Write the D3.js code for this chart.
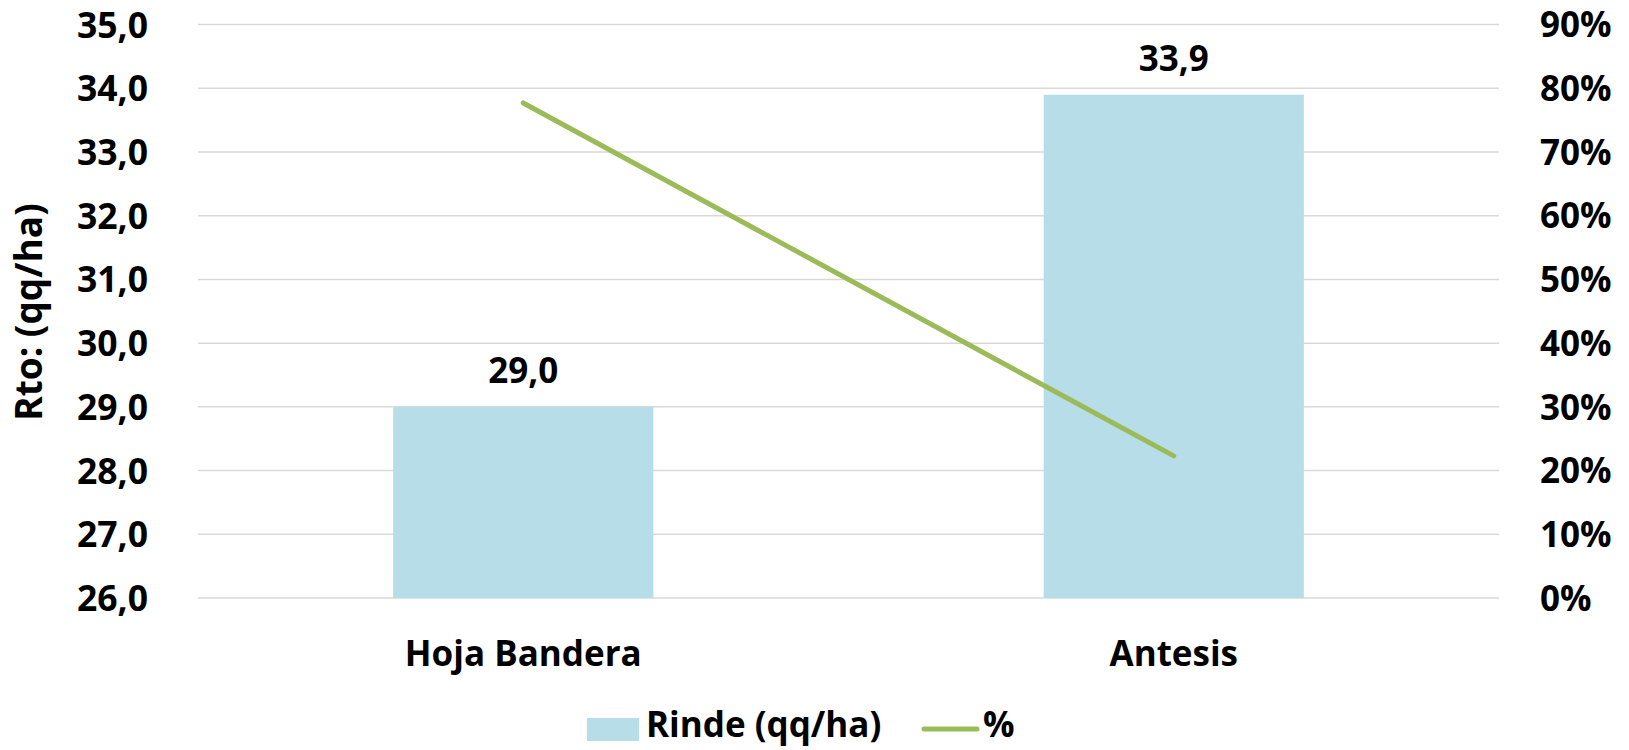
<!DOCTYPE html>
<html>
<head>
<meta charset="utf-8">
<script src="https://cdn.jsdelivr.net/npm/d3@7"></script>
<style>
  body { margin: 0; background: #fff; }
  text { font-family: "Open Sans", sans-serif; font-weight: bold; fill: #000; }
</style>
</head>
<body>
<svg width="1629" height="750"></svg>
<script>
// data
var categories = ["Hoja Bandera", "Antesis"];
var rinde = [29.0, 33.9];
var pct = [0.777, 0.223];
var leftTicks = [26, 27, 28, 29, 30, 31, 32, 33, 34, 35];
var rightTicks = [0, 0.1, 0.2, 0.3, 0.4, 0.5, 0.6, 0.7, 0.8, 0.9];

var svg = d3.select("svg");
// plot box (note: "top" is a reserved window prop, so use plot* names)
var plotLeft = 198, plotRight = 1499, plotTop = 24.6, plotBottom = 598;

var x = d3.scaleBand()
  .domain(categories)
  .range([plotLeft, plotRight])
  .paddingInner(0.6)
  .paddingOuter(0.3);

var y = d3.scaleLinear().domain([26, 35]).range([plotBottom, plotTop]);
var y2 = d3.scaleLinear().domain([0, 0.9]).range([plotBottom, plotTop]);

var fmt1 = d => d3.format(".1f")(d).replace(".", ",");

// gridlines
svg.append("g")
  .selectAll("line")
  .data(leftTicks)
  .enter()
  .append("line")
  .attr("x1", plotLeft)
  .attr("x2", plotRight)
  .attr("y1", d => y(d))
  .attr("y2", d => y(d))
  .style("stroke", "#d9d9d9")
  .attr("stroke-width", 1.5);

// left axis
var yAxis = svg.append("g")
  .attr("transform", "translate(148,0)")
  .call(d3.axisLeft(y).tickValues(leftTicks).tickFormat(fmt1).tickSize(0).tickPadding(0));
yAxis.select(".domain").remove();
yAxis.selectAll("text").style("font-size", "35.5px").attr("dy", "0.35em");

// right axis
var y2Axis = svg.append("g")
  .attr("transform", "translate(1540,0)")
  .call(d3.axisRight(y2).tickValues(rightTicks).tickFormat(d3.format(".0%")).tickSize(0).tickPadding(0));
y2Axis.select(".domain").remove();
y2Axis.selectAll("text").style("font-size", "35px").attr("dy", "0.35em");

// bars
svg.append("g")
  .selectAll("rect")
  .data(rinde)
  .enter()
  .append("rect")
  .attr("x", (d, i) => x(categories[i]))
  .attr("width", x.bandwidth())
  .attr("y", d => y(d))
  .attr("height", d => plotBottom - y(d))
  .attr("fill", "#b7dde8");

// bar labels
svg.append("g")
  .selectAll("text")
  .data(rinde)
  .enter()
  .append("text")
  .attr("x", (d, i) => x(categories[i]) + x.bandwidth() / 2)
  .attr("y", d => y(d) - 24)
  .attr("text-anchor", "middle")
  .style("font-size", "35px")
  .text(fmt1);

// % line
var line = d3.line()
  .x((d, i) => x(categories[i]) + x.bandwidth() / 2)
  .y(d => y2(d));

svg.append("path")
  .datum(pct)
  .attr("d", line)
  .attr("fill", "none")
  .style("stroke", "#9bbb59")
  .attr("stroke-width", 5)
  .attr("stroke-linecap", "round");

// category labels
svg.append("g")
  .selectAll("text")
  .data(categories)
  .enter()
  .append("text")
  .attr("x", d => x(d) + x.bandwidth() / 2)
  .attr("y", 666)
  .attr("text-anchor", "middle")
  .style("font-size", "35px")
  .text(d => d);

// y title
svg.append("text")
  .attr("transform", "translate(42,312) rotate(-90)")
  .attr("text-anchor", "middle")
  .style("font-size", "37px")
  .text("Rto: (qq/ha)");

// legend
var lg = svg.append("g");
lg.append("rect")
  .attr("x", 587).attr("y", 718)
  .attr("width", 52).attr("height", 23)
  .attr("fill", "#b7dde8");
lg.append("text")
  .attr("x", 646).attr("y", 737)
  .style("font-size", "35px")
  .text("Rinde (qq/ha)");
lg.append("line")
  .attr("x1", 924).attr("x2", 977)
  .attr("y1", 729).attr("y2", 729)
  .style("stroke", "#9bbb59")
  .attr("stroke-width", 5)
  .attr("stroke-linecap", "round");
lg.append("text")
  .attr("x", 983).attr("y", 737)
  .style("font-size", "35px")
  .text("%");
</script>
</body>
</html>
